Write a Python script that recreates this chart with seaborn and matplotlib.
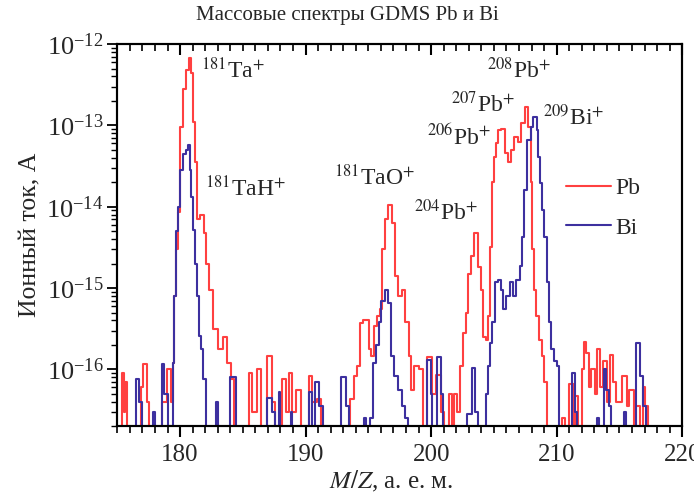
#!/usr/bin/env python3
"""GDMS mass spectra of Pb and Bi samples (ion current vs M/Z, log scale)."""

import numpy as np
import pandas as pd
import seaborn as sns
from matplotlib import pyplot as plt
from matplotlib.ticker import MultipleLocator, LogLocator, NullFormatter

# Step spectra (value holds until the next M/Z point); 1e-18 = below the axis
pb_mz = [175.0, 175.35, 175.55, 175.65, 175.8, 176.9, 177.05, 177.35, 177.5,
         178.6, 178.95, 179.25, 179.45, 179.55, 179.7, 179.85, 180.0, 180.2,
         180.45, 180.7, 180.85, 181.0, 181.2, 181.35, 181.6, 181.9, 182.05,
         182.3, 182.6, 183.0, 183.45, 183.75, 184.05, 184.3,
         185.5, 185.75, 186.15, 186.45, 186.95, 187.35, 187.55, 188.1, 188.4,
         188.7, 188.95, 189.25, 189.65, 190.3, 190.55, 190.9, 191.25,
         193.5, 193.85, 194.1, 194.3, 194.6, 195.05, 195.2, 195.45, 195.7,
         195.9, 196.1, 196.3, 196.6, 196.85, 197.1, 197.35, 197.65, 197.95,
         198.2, 198.4, 198.65, 199.05, 199.35, 199.7, 200.1, 200.4, 200.8,
         201.05, 201.45, 201.65, 201.85, 202.1, 202.3, 202.5, 202.75, 202.95,
         203.15, 203.45, 203.75, 203.95, 204.1, 204.35, 204.55, 204.7, 204.85,
         205.0, 205.15, 205.35, 205.6, 205.85, 206.1, 206.35, 206.6, 206.9,
         207.15, 207.45, 207.75, 207.95, 208.05, 208.2, 208.35, 208.6, 208.85,
         209.0, 209.2, 210.45, 210.65, 210.95, 211.35, 211.45, 211.7, 211.85,
         212.05, 212.15, 212.35, 212.6, 212.75, 213.05, 213.2, 213.45, 213.7,
         214.0, 214.25, 214.5, 214.75, 215.2, 215.6, 215.8, 216.15, 216.35,
         216.6, 216.85, 217.0, 217.25, 218.0]
pb_ion = [1e-18, 9e-17, 3e-17, 7e-17, 1e-18, 6e-17, 1.15e-16, 4e-17, 1e-18,
          4e-17, 1.0e-16, 4e-17, 1.2e-16, 8e-16, 3e-15, 8.5e-15, 9.5e-14, 2.8e-13,
          4.8e-13, 6.8e-13, 4.4e-13, 1.1e-13, 3.5e-14, 7e-15, 7.9e-15, 4.8e-15, 2.0e-15,
          9.5e-16, 3.1e-16, 1.8e-16, 2.5e-16, 1.2e-16, 7.6e-17, 1e-18,
          9e-17, 3e-17, 1.0e-16, 1e-18, 1.45e-16, 4e-17, 2e-17, 7.6e-17, 3e-17,
          9e-17, 3e-17, 5.6e-17, 2e-17, 8.3e-17, 4e-17, 4.3e-17, 1e-18,
          4.3e-17, 8.3e-17, 1.1e-16, 3.7e-16, 4e-16, 1.8e-16, 1.45e-16, 3.4e-16, 4.5e-16,
          5.5e-16, 3e-15, 7e-15, 1.05e-14, 6.3e-15, 1.4e-15, 8e-16, 9.5e-16, 3.8e-16,
          1.45e-16, 5.6e-17, 1.1e-16, 1.0e-16, 1e-18, 1.4e-16, 5e-17, 8.5e-17, 3e-17,
          1e-18, 5e-17, 1e-18, 5e-17, 3e-17, 1.1e-16, 2.8e-16, 5e-16, 1.5e-15,
          2.5e-15, 4.8e-15, 1.8e-15, 9.5e-16, 2.5e-16, 2.3e-16, 4.5e-16, 3.2e-15, 2e-14,
          4.1e-14, 6e-14, 8.7e-14, 9e-14, 4.6e-14, 3.5e-14, 5e-14, 7.2e-14, 6.3e-14,
          1.07e-13, 1.7e-13, 9.5e-14, 2e-14, 3e-15, 9.5e-16, 4.5e-16, 2.3e-16, 1.45e-16,
          7e-17, 1e-18, 2.5e-17, 1e-18, 6.6e-17, 2e-17, 4.7e-17, 2e-17, 1e-18,
          1.0e-16, 2.2e-16, 1.6e-16, 6e-17, 1.0e-16, 5e-17, 1.8e-16, 6e-17, 1.25e-16,
          4e-17, 1.5e-16, 7e-17, 4e-17, 8.3e-17, 3.5e-17, 5.6e-17, 2e-17, 3.5e-17,
          1e-18, 6e-17, 3.5e-17, 1e-18, 1e-18]

bi_mz = [175.0, 176.5, 176.75, 176.95, 177.85, 178.0, 178.55, 178.75, 179.0,
         179.4, 179.55, 179.7, 179.85, 180.0, 180.25, 180.45, 180.6, 180.8,
         180.9, 181.05, 181.2, 181.35, 181.5, 181.65, 181.85, 182.05,
         182.85, 183.0, 184.0, 184.45, 186.95, 187.3, 187.55, 187.85, 188.0,
         188.8, 188.95, 190.25, 190.55, 190.75, 191.1, 191.35, 192.85, 193.25,
         193.45, 194.65, 194.8, 195.15, 195.4, 195.6, 195.85, 196.0, 196.3,
         196.6, 196.8, 197.05, 197.35, 197.65, 197.95, 198.15, 199.65, 199.95,
         200.1, 200.45, 200.8, 200.95, 202.85, 203.25, 203.5, 203.7, 204.35,
         204.55, 204.7, 204.85, 205.05, 205.3, 205.55, 205.75, 206.0, 206.25,
         206.5, 206.75, 207.05, 207.25, 207.4, 207.65, 207.95, 208.15, 208.4,
         208.55, 208.7, 208.85, 209.0, 209.2, 209.35, 209.55, 209.75, 210.05,
         210.2, 211.25, 211.5, 211.65, 213.25, 213.4, 213.75, 213.95, 214.15,
         214.35, 215.35, 215.5, 216.35, 216.6, 216.85, 217.1, 218.0]
bi_ion = [1e-18, 7.6e-17, 4e-17, 1e-18, 3e-17, 1e-18, 1.15e-16, 5e-17, 2e-17,
          1.2e-16, 8e-16, 5e-15, 1e-14, 2.8e-14, 4.4e-14, 5e-14, 5.7e-14, 2.8e-14,
          1.3e-14, 5.2e-15, 2e-15, 8e-16, 2.6e-16, 1.8e-16, 7.6e-17, 1e-18,
          4e-17, 1e-18, 8e-17, 1e-18, 4.5e-17, 3e-17, 1e-18, 5.2e-17, 1e-18,
          3e-17, 1e-18, 5.2e-17, 1e-18, 7e-17, 3.5e-17, 1e-18, 8e-17, 3.5e-17,
          1e-18, 2.5e-17, 1e-18, 2.5e-17, 1.2e-16, 2e-16, 3.8e-16, 7e-16, 9.5e-16,
          6.6e-16, 1.45e-16, 8.3e-17, 5.6e-17, 3.5e-17, 2.5e-17, 1e-18, 1.3e-16, 5e-17,
          1e-18, 1.4e-16, 5e-17, 1e-18, 2.8e-17, 1.05e-16, 3e-17, 1e-18, 5e-17,
          1.1e-16, 2.1e-16, 3.8e-16, 1.2e-15, 1.25e-15, 9.5e-16, 5.5e-16, 8e-16, 1.2e-15,
          8e-16, 1.25e-15, 1.85e-15, 4.3e-15, 1.6e-14, 6.6e-14, 9.5e-14, 1.25e-13, 8.7e-14,
          4.1e-14, 1.95e-14, 9e-15, 4.3e-15, 1.2e-15, 3.8e-16, 1.8e-16, 1.25e-16, 1.1e-16,
          1e-18, 9e-17, 3e-17, 1e-18, 2.5e-17, 1e-18, 1e-16, 5.6e-17, 3.5e-17,
          1e-18, 3e-17, 1e-18, 2.1e-16, 8.3e-17, 3.5e-17, 1e-18, 1e-18]

peak_labels = ["$^{181}$Ta$^{+}$", "$^{181}$TaH$^{+}$", "$^{181}$TaO$^{+}$",
               "$^{204}$Pb$^{+}$", "$^{206}$Pb$^{+}$", "$^{207}$Pb$^{+}$",
               "$^{208}$Pb$^{+}$", "$^{209}$Bi$^{+}$"]
peak_label_mz = [181.7, 182.0, 192.25, 198.6, 199.65, 201.55, 204.45, 208.9]
peak_label_ion = [4.8e-13, 1.7e-14, 2.3e-14, 8.5e-15, 7.2e-14, 1.8e-13, 4.8e-13, 1.27e-13]

sns.set_theme(style="white")
plt.rcParams["font.family"] = ["Liberation Serif", "DejaVu Serif"]
plt.rcParams["mathtext.fontset"] = "stix"

df = pd.concat([
    pd.DataFrame({"mz": pb_mz, "ion": pb_ion, "sample": "Pb"}),
    pd.DataFrame({"mz": bi_mz, "ion": bi_ion, "sample": "Bi"}),
])
colors = {"Pb": "#ff4040", "Bi": "#3d309f"}

fig = plt.figure(figsize=(6.94, 4.95), dpi=100)
ax = fig.add_axes([0.169, 0.139, 0.814, 0.772])

sns.lineplot(data=df, x="mz", y="ion", hue="sample", palette=colors,
             estimator=None, sort=False, drawstyle="steps-post",
             linewidth=1.5, ax=ax, legend=False)

ax.set_yscale("log")
ax.set_xlim(175, 220)
ax.set_ylim(2e-17, 1e-12)

ax.xaxis.set_major_locator(MultipleLocator(10))
ax.xaxis.set_minor_locator(MultipleLocator(1))
ax.yaxis.set_major_locator(LogLocator(base=10, numticks=10))
ax.yaxis.set_minor_locator(LogLocator(base=10, subs=np.arange(2, 10), numticks=10))
ax.yaxis.set_minor_formatter(NullFormatter())
ax.tick_params(axis="x", which="both", bottom=True, top=False)
ax.tick_params(axis="y", which="both", left=True, right=False)
ax.tick_params(axis="x", which="major", direction="out", length=8, width=1.5,
               labelsize=18, pad=5, color="black")
ax.tick_params(axis="x", which="minor", direction="out", length=5, width=1.2, color="black")
ax.tick_params(axis="y", which="major", direction="out", length=7, width=1.3,
               labelsize=19, pad=3, color="black")
ax.tick_params(axis="y", which="minor", direction="out", length=4, width=1.0, color="black")

# top axis: inward ticks, no labels
ax_top = ax.twiny()
ax_top.set_xlim(ax.get_xlim())
ax_top.xaxis.set_major_locator(MultipleLocator(10))
ax_top.xaxis.set_minor_locator(MultipleLocator(1))
ax_top.tick_params(axis="x", which="both", top=True, bottom=False,
                   labeltop=False, labelbottom=False, direction="in", color="black")
ax_top.tick_params(axis="x", which="major", length=8, width=1.5)
ax_top.tick_params(axis="x", which="minor", length=5, width=1.2)
ax_top.tick_params(axis="y", which="both", left=False, right=False,
                   labelleft=False, labelright=False)

for a in (ax, ax_top):
    for side in ["left", "right", "bottom", "top"]:
        a.spines[side].set_linewidth(1.5)
        a.spines[side].set_color("black")

for text, xm, yv in zip(peak_labels, peak_label_mz, peak_label_ion):
    ax.text(xm, yv, text, fontsize=17, ha="left", va="center")

ax.plot([], [], color=colors["Pb"], linewidth=1.5, label="Pb")
ax.plot([], [], color=colors["Bi"], linewidth=1.5, label="Bi")
ax.legend(loc="upper left", bbox_to_anchor=(0.765, 0.693), frameon=False,
          fontsize=17, handlelength=1.9, handletextpad=0.2,
          labelspacing=0.75, borderpad=0.2)

ax.set_xlabel("$M/Z$, а. е. м.", fontsize=18)
ax.set_ylabel("Ионный ток, А", fontsize=18.5)
ax.xaxis.set_label_coords(0.485, -0.112)
ax.yaxis.set_label_coords(-0.135, 0.5)
fig.text(0.5, 0.969, "Массовые спектры GDMS Pb и Bi", fontsize=15,
         ha="center", va="center")

fig.savefig("out.png", dpi=100)
plt.close(fig)
